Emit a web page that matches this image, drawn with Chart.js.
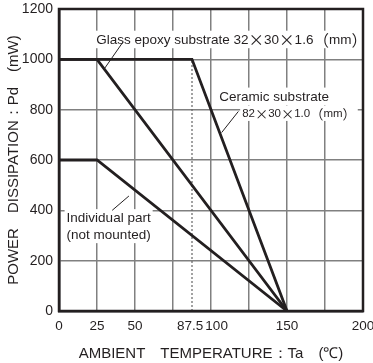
<!DOCTYPE html>
<html>
<head>
<meta charset="utf-8">
<script src="https://cdn.jsdelivr.net/npm/chart.js@4.4.0/dist/chart.umd.min.js"></script>
<style>
  html, body { margin: 0; padding: 0; background: #fff; }
  #wrap { width: 373px; height: 363px; }
</style>
</head>
<body>
<div id="wrap"><canvas id="derating"></canvas></div>
<script>
// temperature (C) vs power dissipation (mW)
const ceramicTa = [0, 87.5, 150];
const ceramicPd = [1000, 1000, 0];
const glassTa = [0, 25, 150];
const glassPd = [1000, 1000, 0];
const singleTa = [0, 25, 150];
const singlePd = [600, 600, 0];

const xTicks = [0, 25, 50, 75, 87.5, 100, 125, 150, 175, 200];
const xLabeled = [0, 25, 50, 87.5, 100, 150, 200];
const yTicks = [0, 200, 400, 600, 800, 1000, 1200];

const ink = '#231f20';
const gridGray = '#808080';
const font = '"Liberation Sans", Arial, sans-serif';
const cjk = '"Noto Sans CJK JP", sans-serif';

function pts(xs, ys) {
    return xs.map(function (x, i) { return {x: x, y: ys[i]}; });
}

function line(data) {
    return {data: data, borderColor: ink, borderWidth: 2.8, pointRadius: 0,
        showLine: true, fill: false, tension: 0};
}

// text notes with white boxes, drawn over the grid and under the curves
const notes = [
    {x: 24.5, y: 1077, lines: ['Glass epoxy substrate 32×30×1.6（mm）'], size: 13.5, leader: [30, 964, 42, 1068]},
    {x: 105.5, y: 851, lines: ['Ceramic substrate'], size: 13.5, leader: [107, 709, 118, 793]},
    {x: 120.5, y: 784, lines: ['82×30×1.0（mm）'], size: 11.5},
    {x: 5, y: 368, lines: ['Individual part', '(not mounted)'], size: 13.5, leader: [35, 400, 46, 457]}
];

// split a string so that × and full-width brackets use a CJK face
function runs(t) {
    return t.split(/([×（）])/).filter(function (s) { return s.length; }).map(function (s) {
        return {text: s, cjk: /[×（）]/.test(s)};
    });
}

function runFont(r, size) {
    return r.cjk ? (size * 1.15) + 'px ' + cjk : size + 'px ' + font;
}

function measure(ctx, t, size) {
    let w = 0;
    runs(t).forEach(function (r) { ctx.font = runFont(r, size); w += ctx.measureText(r.text).width; });
    return w;
}

function drawRich(ctx, t, x, y, size) {
    runs(t).forEach(function (r) {
        ctx.font = runFont(r, size);
        ctx.fillText(r.text, x, y);
        x += ctx.measureText(r.text).width;
    });
}

const notesPlugin = {
    id: 'notes',
    beforeDatasetsDraw: function (chart) {
        const ctx = chart.ctx, xs = chart.scales.x, ys = chart.scales.y;
        ctx.save();
        // dotted mark at 87.5
        ctx.strokeStyle = '#666';
        ctx.lineWidth = 1.2;
        ctx.setLineDash([2, 2]);
        ctx.beginPath();
        ctx.moveTo(xs.getPixelForValue(87.5), ys.getPixelForValue(0));
        ctx.lineTo(xs.getPixelForValue(87.5), ys.getPixelForValue(1000));
        ctx.stroke();
        ctx.setLineDash([]);
        ctx.textBaseline = 'middle';
        ctx.textAlign = 'left';
        notes.forEach(function (n) {
            const px = xs.getPixelForValue(n.x), py = ys.getPixelForValue(n.y);
            const lh = n.size + 3;
            let w = 0;
            n.lines.forEach(function (t) { w = Math.max(w, measure(ctx, t, n.size)); });
            ctx.fillStyle = '#fff';
            ctx.fillRect(px - 2, py - lh / 2 - 1, w + 4, lh * n.lines.length + 1);
            ctx.fillStyle = ink;
            n.lines.forEach(function (t, i) { drawRich(ctx, t, px, py + i * lh, n.size); });
            if (n.leader) {
                ctx.strokeStyle = ink;
                ctx.lineWidth = 1;
                ctx.beginPath();
                ctx.moveTo(xs.getPixelForValue(n.leader[0]), ys.getPixelForValue(n.leader[1]));
                ctx.lineTo(xs.getPixelForValue(n.leader[2]), ys.getPixelForValue(n.leader[3]));
                ctx.stroke();
            }
        });
        ctx.restore();
    },
    afterDatasetsDraw: function (chart) {
        const a = chart.chartArea, ctx = chart.ctx;
        ctx.save();
        ctx.strokeStyle = ink;
        ctx.lineWidth = 2.5;
        ctx.strokeRect(a.left, a.top, a.right - a.left, a.bottom - a.top);
        ctx.restore();
    }
};

new Chart(document.getElementById('derating'), {
    type: 'scatter',
    data: {
        datasets: [
            line(pts(ceramicTa, ceramicPd)),
            line(pts(glassTa, glassPd)),
            line(pts(singleTa, singlePd))
        ]
    },
    options: {
        responsive: true,
        maintainAspectRatio: false,
        animation: false,
        layout: {padding: {top: 9, right: 10, left: 0, bottom: 0}},
        plugins: {legend: {display: false}, tooltip: {enabled: false}},
        scales: {
            x: {
                type: 'linear', min: 0, max: 200,
                afterBuildTicks: function (s) { s.ticks = xTicks.map(function (v) { return {value: v}; }); },
                afterFit: function (s) { s.height = 52; s.paddingLeft = 0; s.paddingRight = 0; },
                ticks: {
                    autoSkip: false, maxRotation: 0, padding: 7,
                    color: ink, font: {family: font, size: 13.5},
                    callback: function (v) {
                        if (xLabeled.indexOf(v) < 0) return '';
                        // 87.5 and 100 sit close together: nudge them apart
                        if (v === 87.5) return '87.5 ';
                        if (v === 100) return '   100';
                        return String(v);
                    }
                },
                grid: {
                    drawTicks: false, lineWidth: 1.5,
                    color: function (c) { return c.tick && c.tick.value === 87.5 ? 'rgba(0,0,0,0)' : gridGray; }
                },
                border: {color: ink, width: 2.5},
                title: {
                    display: true, text: 'AMBIENT　TEMPERATURE：Ta　(℃)',
                    color: ink, font: {family: font, size: 15}, padding: {top: 6, bottom: 0}
                }
            },
            y: {
                type: 'linear', min: 0, max: 1200,
                afterBuildTicks: function (s) { s.ticks = yTicks.map(function (v) { return {value: v}; }); },
                afterFit: function (s) { s.width = 59; s.paddingTop = 0; s.paddingBottom = 0; },
                ticks: {
                    padding: 6, color: ink, font: {family: font, size: 14},
                    callback: function (v) { return String(v); }
                },
                grid: {drawTicks: false, lineWidth: 1.5, color: gridGray},
                border: {color: ink, width: 2.5},
                title: {
                    display: true, text: 'POWER　DISSIPATION：Pd　(mW)',
                    color: ink, font: {family: font, size: 15}, padding: {top: 5, bottom: 0}
                }
            }
        }
    },
    plugins: [notesPlugin]
});
</script>
</body>
</html>
